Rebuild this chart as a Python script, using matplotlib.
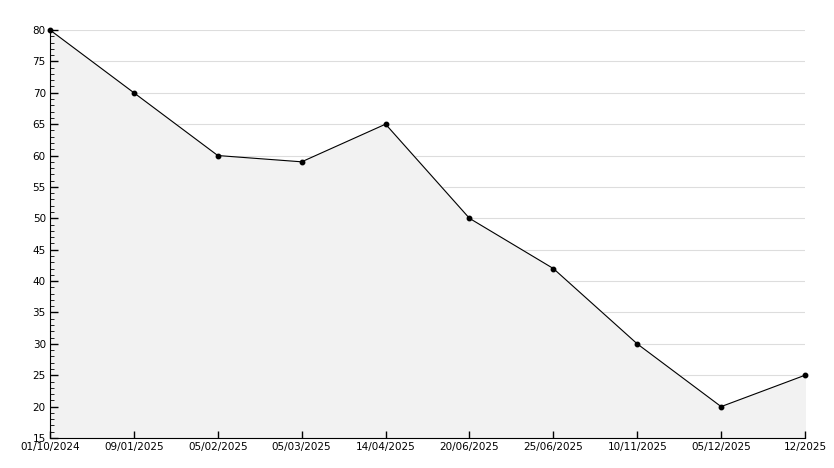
import matplotlib.pyplot as plt
import numpy as np
from matplotlib.ticker import MultipleLocator

dates = ["01/10/2024", "09/01/2025", "05/02/2025", "05/03/2025", "14/04/2025",
         "20/06/2025", "25/06/2025", "10/11/2025", "05/12/2025", "12/2025"]
values = [80, 70, 60, 59, 65, 50, 42, 30, 20, 25]

fig = plt.figure(figsize=(8.34, 4.68), dpi=100)
ax = fig.add_axes([50 / 834, 30 / 468, 755 / 834, 408 / 468])
x = np.arange(len(values))
for yv in range(20, 81, 5):
    ax.axhline(yv, color="#dddddd", linewidth=0.8, zorder=0.3)
ax.fill_between(x, values, 15, color="#f2f2f2", zorder=1)
ax.plot(x, values, color="black", linewidth=0.8, marker="o", markersize=3.2, zorder=3,
        clip_on=False)

ax.set_xlim(0, len(values) - 1)
ax.set_ylim(15, 80)
ax.set_xticks(x)
ax.set_xticklabels(dates)
ax.yaxis.set_major_locator(MultipleLocator(5))
ax.yaxis.set_minor_locator(MultipleLocator(1))
ax.set_axisbelow(False)
for s in ("top", "right"):
    ax.spines[s].set_visible(False)
ax.tick_params(axis="both", direction="in", labelsize=7.5, width=1)
ax.tick_params(axis="y", which="major", length=6, pad=3)
ax.tick_params(axis="y", which="minor", length=3, direction="in")
ax.tick_params(axis="x", length=5, pad=3)
fig.savefig("out.png")
